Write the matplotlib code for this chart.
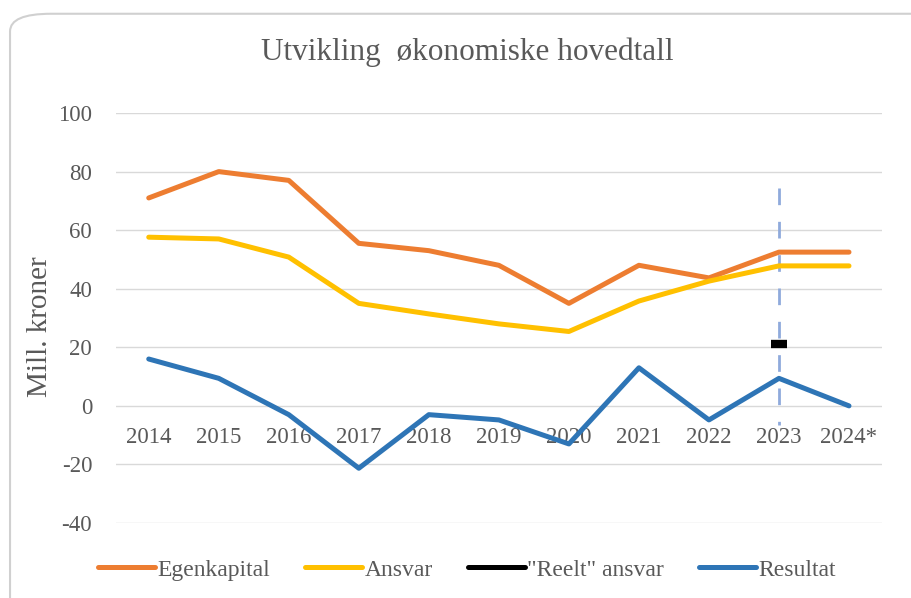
import matplotlib
matplotlib.use("Agg")
from matplotlib import pyplot as plt
from matplotlib.patches import FancyBboxPatch
from matplotlib.lines import Line2D

years = ["2014", "2015", "2016", "2017", "2018", "2019", "2020", "2021", "2022", "2023", "2024*"]
egenkapital = [71, 80, 77, 55.5, 53, 48, 35, 48, 43.7, 52.5, 52.5]
ansvar = [57.6, 57, 50.8, 35, 31.4, 28, 25.4, 35.8, 42.6, 47.8, 47.8]
reelt_ansvar = [None, None, None, None, None, None, None, None, None, 21.2, None]
resultat = [16, 9.4, -3, -21.3, -3, -4.8, -13, 13, -4.8, 9.4, 0]

grey = "#595959"
plt.rcParams["font.family"] = ["Liberation Serif", "DejaVu Serif"]
plt.rcParams["axes.unicode_minus"] = False

fig = plt.figure(figsize=(9.12, 5.98), dpi=100)
ax = fig.add_axes([0.127, 0.1254, 0.84, 0.6856])

# rounded frame around the chart
frame = FancyBboxPatch((0.011, -0.05), 1.1, 1.027, boxstyle="round,pad=0,rounding_size=0.045",
                       transform=fig.transFigure, facecolor="none", edgecolor="#D0D0D0",
                       linewidth=1.5, zorder=-1, mutation_aspect=598 / 912)
fig.patches.append(frame)

x = list(range(len(years)))
ax.plot(x, egenkapital, color="#ED7D31", lw=3.6, solid_capstyle="round")
ax.plot(x, ansvar, color="#FFC000", lw=3.6, solid_capstyle="round")
rx = [i for i, v in zip(x, reelt_ansvar) if v is not None]
ry = [v for v in reelt_ansvar if v is not None]
ax.plot(rx, ry, color="black", marker="_", markersize=12, markeredgewidth=6, linestyle="none")
ax.plot(x, resultat, color="#2E75B6", lw=3.6, solid_capstyle="round")

# dashed marker for 2023
ax.plot([9, 9], [74.5, -6.5], color="#8FAADC", lw=2, dashes=(6, 6), zorder=1)

ax.set_xlim(-0.47, len(years) - 0.53)
ax.set_ylim(-40, 100)
ax.set_yticks(range(-40, 101, 20))
ax.set_xticks(x)
ax.set_xticklabels(years)
ax.grid(axis="y", color="#D9D9D9", lw=1)
ax.set_axisbelow(True)
for s in ["top", "right", "left"]:
    ax.spines[s].set_visible(False)
ax.spines["bottom"].set_position(("data", 0))
ax.spines["bottom"].set_color("none")
ax.tick_params(axis="x", length=0, pad=15, labelsize=16.5, colors=grey)
ax.tick_params(axis="y", length=0, pad=17, labelsize=16.5, colors=grey)

fig.text(0.044, 1 - 327 / 598, "Mill. kroner", rotation=90, ha="center", va="center",
         fontsize=21, color=grey)
fig.text(0.512, 0.913, "Utvikling  økonomiske hovedtall", ha="center", va="center",
         fontsize=22.5, color=grey)

handles = [Line2D([], [], color=c, lw=3.6, solid_capstyle="round")
           for c in ["#ED7D31", "#FFC000", "black", "#2E75B6"]]
labels = ["Egenkapital", "Ansvar", '"Reelt" ansvar', "Resultat"]
fig.legend(handles, labels, loc="center", bbox_to_anchor=(0.512, 0.047), ncol=4, frameon=False,
           fontsize=17, handlelength=2.4, handletextpad=0.1, columnspacing=1.5,
           labelcolor=grey)

fig.savefig("out.png", dpi=100)
